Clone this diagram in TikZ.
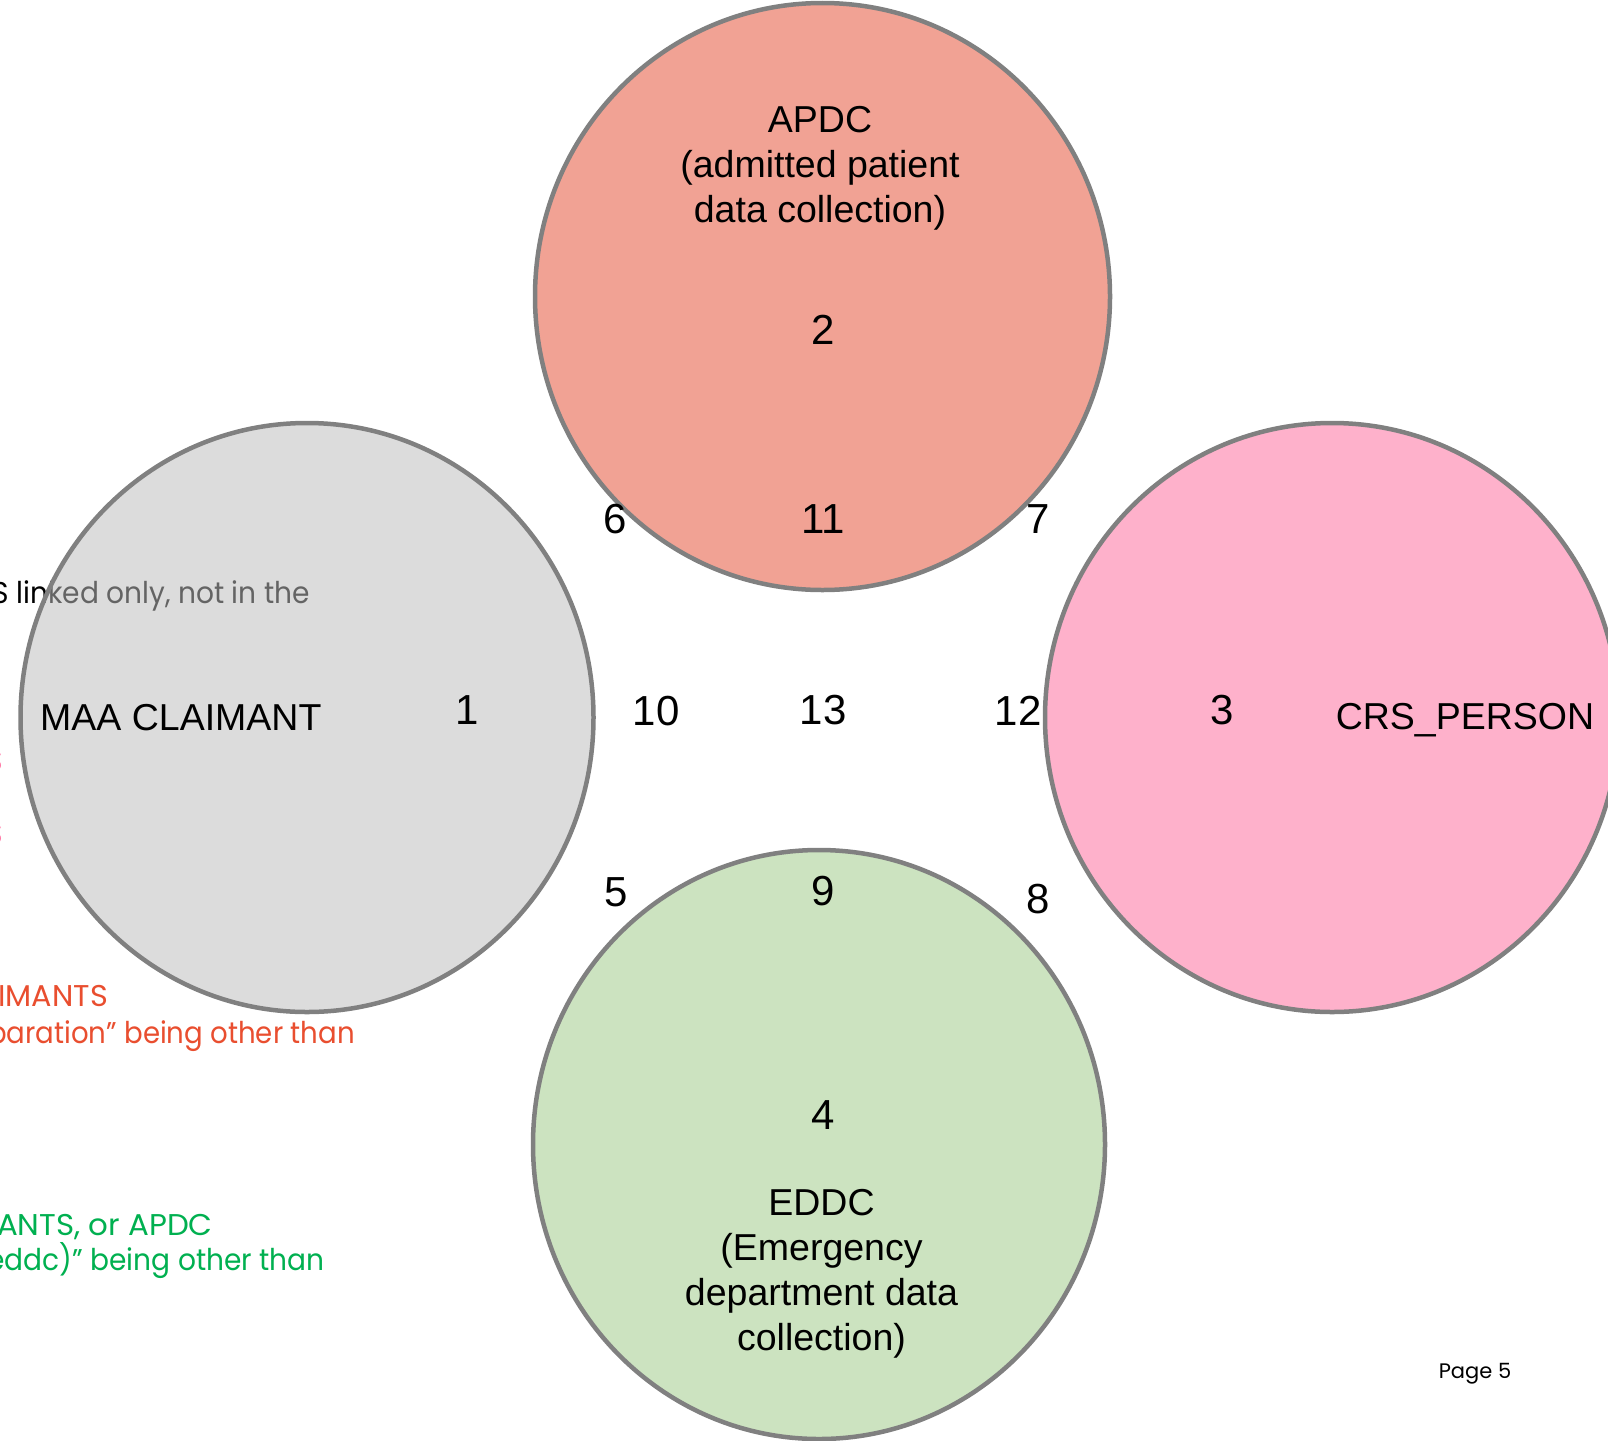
\documentclass[tikz,border=0pt]{standalone}
\usepackage{fontspec}
\usepackage{graphicx}
\setmainfont{Liberation Sans}
\newfontfamily\geofont{Poppins}
\definecolor{salmon}{RGB}{241,162,148}
\definecolor{pinkfill}{RGB}{254,177,203}
\definecolor{greenfill}{RGB}{204,227,192}
\definecolor{grayfill}{RGB}{190,190,190}
\definecolor{rimgray}{RGB}{128,128,128}
\definecolor{redtext}{RGB}{233,78,47}
\definecolor{greentext}{RGB}{0,176,80}
\definecolor{pinktext}{RGB}{255,102,153}
\begin{document}
\begin{tikzpicture}[x=1pt,y=1pt,
  setcirc/.style={draw=rimgray,line width=4.5pt},
  lbl/.style={font=\fontsize{37.5}{45}\selectfont,align=center,inner sep=0pt},
  num/.style={font=\fontsize{42}{48}\selectfont,inner sep=0pt},
  note/.style={font=\geofont\fontsize{30}{36}\selectfont,inner sep=0pt,anchor=base east}]
\useasboundingbox (0,0) rectangle (1608,-1440);
\fill[white] (0,0) rectangle (1608,-1440);
% background notes (partly cut off by page edge)
\node[note,text=black] (n1) at (310,-603) {\scalebox{0.935}[1]{S linked only, not in the}};
\node[note,text=pinktext] (n2) at (3,-771) {S};
\node[note,text=pinktext] (n3) at (3,-844) {S};
\node[note,text=redtext] (n4) at (108,-1006) {\scalebox{1.01}[1]{IMANTS}};
\node[note,text=redtext] (n5) at (355,-1043) {\scalebox{0.92}[1]{paration” being other than}};
\node[note,text=greentext] (n6) at (213,-1235) {\scalebox{1.03}[1]{ANTS, or APDC}};
\node[note,text=greentext] (n7) at (325,-1270) {\scalebox{0.935}[1]{eddc)” being other than}};
% sets
\draw[setcirc,fill=grayfill,fill opacity=0.53] (307,-717.5) ellipse [x radius=286.5,y radius=294.5];
\draw[setcirc,fill=salmon] (822.5,-296.5) ellipse [x radius=287.5,y radius=293.5];
\draw[setcirc,fill=pinkfill] (1332,-717.5) ellipse [x radius=287,y radius=294.5];
\draw[setcirc,fill=greenfill] (819,-1144.5) ellipse [x radius=286,y radius=294.5];
% labels
\node[lbl] (apdc) at (820,-168) {APDC\\(admitted patient\\data collection)};
\node[lbl,anchor=west] (maa) at (40,-718) {MAA CLAIMANT};
\node[lbl] (crs) at (1465,-720) {CRS\_PERSON};
\node[lbl] (eddc) at (821.5,-1273.5) {EDDC\\(Emergency\\department data\\collection)};
% region numbers
\node[num] (r1) at (467,-710) {1};
\node[num] (r2) at (823,-330) {2};
\node[num] (r3) at (1222,-710) {3};
\node[num] (r4) at (823,-1115) {4};
\node[num] (r5) at (616,-892) {5};
\node[num] (r6) at (615,-519) {6};
\node[num] (r7) at (1038,-519) {7};
\node[num] (r8) at (1038,-899) {8};
\node[num] (r9) at (823,-891) {9};
\node[num] (r10) at (656,-711) {10};
\node[num] (r11) at (823,-519) {11};
\node[num] (r12) at (1018,-711) {12};
\node[num] (r13) at (823,-710) {13};
\node[font=\geofont\fontsize{21}{25}\selectfont,inner sep=0pt] (page) at (1475,-1374) {Page 5};
\end{tikzpicture}
\end{document}
